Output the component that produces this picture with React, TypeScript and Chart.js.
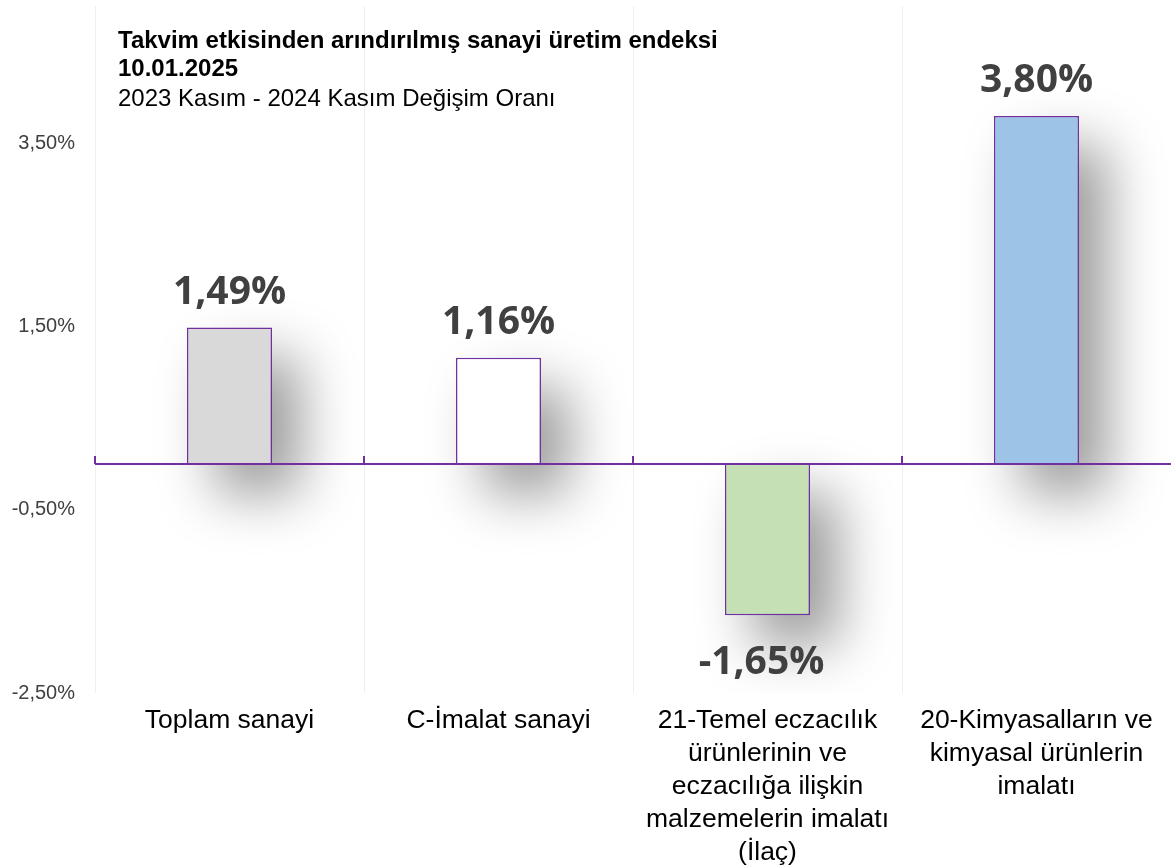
import React, { useEffect, useRef } from "react";
import { Chart, registerables } from "chart.js";

Chart.register(...registerables);

const categories: string[][] = [
  ["Toplam sanayi"],
  ["C-İmalat sanayi"],
  ["21-Temel eczacılık", "ürünlerinin ve", "eczacılığa ilişkin", "malzemelerin imalatı", "(İlaç)"],
  ["20-Kimyasalların ve", "kimyasal ürünlerin", "imalatı"],
];
const values: number[] = [1.49, 1.16, -1.65, 3.8];
const barColors: string[] = ["#d9d9d9", "#ffffff", "#c5e0b4", "#9dc3e6"];
const yTicks: number[] = [-2.5, -0.5, 1.5, 3.5];
const yMin = -2.5;
const yMax = 5.0;
const titleLines: string[] = [
  "Takvim etkisinden arındırılmış sanayi üretim endeksi",
  "10.01.2025",
  "2023 Kasım - 2024 Kasım Değişim Oranı",
];

const PURPLE = "#7030a0";
const fmt = (v: number) => v.toFixed(2).replace(".", ",") + "%";

export default function App() {
  const ref = useRef<HTMLCanvasElement | null>(null);

  useEffect(() => {
    if (!ref.current) return;

    const shadowPlugin = {
      id: "barShadow",
      beforeDatasetsDraw(chart: any) {
        const ctx = chart.ctx;
        const meta = chart.getDatasetMeta(0);
        const area = chart.chartArea;
        const SHIFT = 5000;
        ctx.save();
        ctx.beginPath();
        ctx.rect(area.left, area.top, area.right - area.left, area.bottom - area.top);
        ctx.clip();
        ctx.shadowColor = "rgba(0,0,0,0.4)";
        ctx.shadowBlur = 55;
        ctx.shadowOffsetX = 28 + SHIFT;
        ctx.shadowOffsetY = 30;
        ctx.fillStyle = "#000000";
        meta.data.forEach((bar: any) => {
          const p = bar.getProps(["x", "y", "base", "width"], true);
          const left = p.x - p.width / 2;
          const top = Math.min(p.y, p.base);
          const h = Math.abs(p.base - p.y);
          ctx.fillRect(left - SHIFT, top, p.width, h);
        });
        ctx.restore();
      },
    };

    const overlayPlugin = {
      id: "overlay",
      afterDraw(chart: any) {
        const ctx = chart.ctx;
        const { left, right } = chart.chartArea;
        const xs = chart.scales.x;
        const ys = chart.scales.y;
        const y0 = ys.getPixelForValue(0);
        ctx.save();
        ctx.strokeStyle = PURPLE;
        ctx.lineWidth = 2.2;
        ctx.beginPath();
        ctx.moveTo(left, y0);
        ctx.lineTo(right, y0);
        ctx.stroke();
        ctx.lineWidth = 2;
        for (let i = 0; i < values.length; i++) {
          const bx = Math.round(xs.getPixelForValue(i - 0.5));
          ctx.beginPath();
          ctx.moveTo(bx, y0);
          ctx.lineTo(bx, y0 - 8);
          ctx.stroke();
        }
        const meta = chart.getDatasetMeta(0);
        ctx.fillStyle = "#404040";
        ctx.font = "bold 39px 'Open Sans'";
        ctx.textAlign = "center";
        ctx.textBaseline = "alphabetic";
        meta.data.forEach((bar: any, i: number) => {
          const v = values[i];
          const by = ys.getPixelForValue(v);
          if (v >= 0) {
            ctx.fillText(fmt(v), bar.x, by - 24);
          } else {
            ctx.fillText(fmt(v), bar.x - 6, by + 59);
          }
        });
        ctx.textAlign = "left";
        ctx.fillStyle = "#000000";
        ctx.font = "bold 24px 'Liberation Sans', Arial";
        ctx.fillText(titleLines[0], left + 23, 48);
        ctx.fillText(titleLines[1], left + 23, 76);
        ctx.font = "24px 'Liberation Sans', Arial";
        ctx.fillText(titleLines[2], left + 23, 106);
        ctx.restore();
      },
    };

    const chart = new Chart(ref.current, {
      type: "bar",
      data: {
        labels: categories,
        datasets: [
          {
            data: values,
            backgroundColor: barColors,
            borderColor: PURPLE,
            borderWidth: 1.5,
            categoryPercentage: 0.316,
            barPercentage: 1,
          },
        ],
      },
      options: {
        animation: false,
        responsive: false,
        devicePixelRatio: 1,
        layout: { padding: { top: 6, right: 0, left: 0, bottom: 0 } },
        plugins: {
          legend: { display: false },
          tooltip: { enabled: false },
          title: { display: false },
        },
        scales: {
          x: {
            position: "bottom",
            grid: {
              display: true,
              color: "#efefef",
              lineWidth: 1,
              drawTicks: false,
              offset: true,
            },
            border: { display: false },
            ticks: {
              color: "#000000",
              font: { family: "'Liberation Sans', Arial", size: 26.5, lineHeight: 1.25 },
              padding: 11,
              maxRotation: 0,
              autoSkip: false,
            },
            afterFit(scale: any) {
              scale.height = 174;
              scale.paddingLeft = 0;
              scale.paddingRight = 0;
            },
          },
          y: {
            min: yMin,
            max: yMax,
            grid: { display: false, drawTicks: false },
            border: { display: false },
            ticks: {
              color: "#404040",
              font: { family: "'Liberation Sans', Arial", size: 20 },
              padding: 20,
              callback: (v: any) => fmt(Number(v)),
            },
            afterBuildTicks(scale: any) {
              scale.ticks = yTicks.map((v) => ({ value: v }));
            },
            afterFit(scale: any) {
              scale.width = 95;
              scale.paddingTop = 0;
              scale.paddingBottom = 0;
            },
          },
        },
      },
      plugins: [shadowPlugin, overlayPlugin],
    });

    return () => chart.destroy();
  }, []);

  return (
    <div style={{ position: "absolute", left: 0, top: 0, width: 1171, height: 867, background: "#ffffff" }}>
      <canvas ref={ref} width={1171} height={867} style={{ display: "block" }} />
    </div>
  );
}
